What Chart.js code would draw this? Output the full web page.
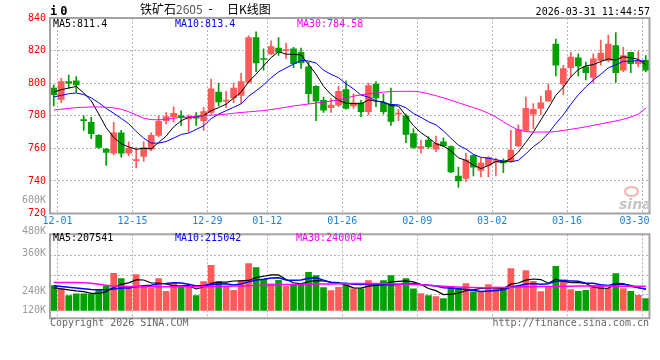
<!DOCTYPE html>
<html>
<head>
<meta charset="utf-8">
<script src="https://cdn.jsdelivr.net/npm/chart.js@4.4.1/dist/chart.umd.min.js"></script>
<style>
  html, body { margin: 0; padding: 0; background: #fff; }
  #wrap { position: relative; width: 660px; height: 360px; overflow: hidden;
          font-family: "DejaVu Sans Mono", monospace; font-size: 10px; }
  #wrap canvas { position: absolute; left: 0; }
  .t { position: absolute; white-space: nowrap; line-height: 12px; }
  .vl { position: absolute; right: 614px; color: #9a9a9a; line-height: 12px; }
</style>
</head>
<body>
<div id="wrap">
  <canvas id="kChart" width="660" height="232" style="top:0"></canvas>
  <canvas id="volChart" width="660" height="128" style="top:232px"></canvas>

  <div class="t" style="left:50px;top:5px;font-weight:bold;font-size:12px;letter-spacing:3px;">i0</div>
  <div class="t" style="left:140px;top:3px;font-family:'Noto Sans CJK SC';font-size:12px;">铁矿石<span style="color:#555">2605</span></div>
  <div class="t" style="left:207px;top:3px;font-size:12px;">-</div>
  <div class="t" style="left:227px;top:3px;font-family:'Noto Sans CJK SC';font-size:12px;">日K线图</div>
  <div class="t" style="right:10px;top:6px;">2026-03-31 11:44:57</div>

  <div class="t" style="left:53px;top:18px;color:#000">MA5:811.4</div>
  <div class="t" style="left:175px;top:18px;color:#0000ff">MA10:813.4</div>
  <div class="t" style="left:297px;top:18px;color:#ff00ff">MA30:784.58</div>

  <div class="vl" style="top:194px">600K</div>
  <div class="vl" style="top:225px">480K</div>
  <div class="vl" style="top:247px">360K</div>
  <div class="vl" style="top:285px">240K</div>
  <div class="vl" style="top:304px">120K</div>

  <div class="t" style="left:53px;top:232px;color:#000">MA5:207541</div>
  <div class="t" style="left:175px;top:232px;color:#0000ff">MA10:215042</div>
  <div class="t" style="left:296px;top:232px;color:#ff00ff">MA30:240004</div>

  <div class="t" style="left:50px;top:317px;color:#666">Copyright 2026 SINA.COM</div>
  <div class="t" style="right:11px;top:317px;color:#666">http://finance.sina.com.cn</div>

  <div style="position:absolute;left:624px;top:186px;width:11px;height:7px;border:2px solid #f2b3b3;border-radius:50%;"></div>
  <div class="t" style="left:619px;top:196px;font:italic bold 14px 'DejaVu Sans';color:#c4c4c4;">sina</div>
</div>

<script>
// ===== daily K data (2025-12-01 .. 2026-03-31) =====
const dates = [
  '12-01','12-02','12-03','12-04','12-05','12-08','12-09','12-10','12-11','12-12',
  '12-15','12-16','12-17','12-18','12-19','12-22','12-23','12-24','12-25','12-26',
  '12-29','12-30','12-31','01-05','01-06','01-07','01-08','01-09','01-12','01-13',
  '01-14','01-15','01-16','01-19','01-20','01-21','01-22','01-23','01-26','01-27',
  '01-28','01-29','01-30','02-02','02-03','02-04','02-05','02-06','02-09','02-10',
  '02-11','02-12','02-13','02-23','02-24','02-25','02-26','02-27','03-02','03-03',
  '03-04','03-05','03-06','03-09','03-10','03-11','03-12','03-13','03-16','03-17',
  '03-18','03-19','03-20','03-23','03-24','03-25','03-26','03-27','03-30','03-31'
];

const opens = [
  797, 790, 801, 801.5, 777.5, 776, 768, 759.5, 757, 769.5,
  757, 752.5, 755, 759.5, 768, 777, 779.5, 780, 778, 779.5,
  777, 782, 794.5, 789, 791, 792.5, 800.5, 828, 815, 818,
  821.5, 820, 821, 819, 810, 798, 789.5, 785, 786.5, 796,
  786, 788, 782.5, 799.5, 788, 787, 781, 780, 769, 760,
  765, 759.5, 764, 761, 743, 741.5, 755.5, 746.5, 749.5, 751.5,
  752.5, 752, 761.5, 771, 781, 784.5, 789, 824, 799.5, 809.5,
  815.5, 810, 803.5, 814, 814, 823, 808, 819, 812, 814
];
const highs = [
  799, 803, 805, 804, 780, 779, 768.5, 760, 776, 771,
  764, 760.5, 764, 769.5, 780, 782, 785.5, 783, 780.5, 782,
  785, 802.5, 800, 795, 800, 806, 829, 831.5, 821, 826,
  828, 824.5, 822, 821.5, 813, 798.5, 791.5, 790.5, 798, 801.5,
  793.5, 789.5, 800, 801, 793.5, 797, 784, 781, 772, 765,
  767, 767.5, 766.5, 761.5, 748.5, 757, 756, 754, 755, 754,
  753.5, 771, 774.5, 791.5, 787.5, 792, 799.5, 827, 811, 819,
  818, 813, 818, 826.5, 829.5, 831, 822, 819, 819.5, 817
];
const lows = [
  786, 788, 797, 794.5, 771, 766, 760, 749.5, 756, 754.5,
  755.5, 748, 752, 758.5, 767, 775, 776, 774, 770, 774,
  771, 781.5, 786, 785, 788, 787.5, 800, 807, 808, 817.5,
  817, 815, 809.5, 809, 787.5, 777, 782, 782, 785.5, 784,
  784.5, 779.5, 780.5, 785.5, 781, 774, 777, 763.5, 760, 757,
  760, 758, 761, 745, 736, 739.5, 743, 742.5, 742.5, 743,
  745, 751.5, 761, 771, 772, 780.5, 789, 804.5, 793, 804,
  804.5, 802, 800, 811, 813, 800.5, 807, 806.5, 810, 807
];
const closes = [
  793, 801, 800, 799, 777, 769, 760.5, 757.5, 769.5, 757,
  760, 753, 760.5, 768, 776.5, 779.5, 781.5, 779, 779, 778.5,
  782.5, 796.5, 788.5, 789.5, 797, 801, 828, 812.5, 814.5, 822.5,
  819, 820.5, 812, 812.5, 793.5, 789, 783.5, 786.5, 795, 784.5,
  788, 782.5, 798.5, 791, 782.5, 776.5, 781.5, 768.5, 760.5, 761,
  761, 763, 761.5, 745.5, 740, 753, 748.5, 751, 754.5, 752.5,
  751, 759, 771.5, 784.5, 784, 788, 795.5, 811, 809, 816,
  810.5, 806.5, 815, 818.5, 824, 806.5, 817, 812, 813.5, 808
];

const ma5 = [
  794.5, 796, 797, 798, 794, 789.2, 781.1, 772.6, 766.7, 762.7,
  760.9, 759.4, 760, 759.7, 763.6, 767.5, 773.2, 776.9, 779.1, 779.5,
  780.1, 783.1, 785, 787.1, 790.8, 794.5, 800.8, 805.6, 810.6, 815.7,
  819.3, 817.8, 817.7, 817.3, 811.5, 805.5, 798.1, 793, 789.5, 787.7,
  787.5, 787.3, 789.7, 788.9, 788.5, 786.2, 786, 780, 773.9, 769.6,
  766.5, 762.8, 761.4, 758.4, 754.2, 752.6, 749.7, 747.6, 749.4, 751.9,
  751.5, 753.6, 757.7, 763.7, 770, 777.4, 784.7, 792.6, 797.5, 803.9,
  808.4, 810.6, 811.4, 813.3, 814.9, 814.1, 816.2, 815.6, 814.6, 811.4
];
const ma10 = [
  791.5, 792.5, 793.5, 794, 793, 791, 788, 784.5, 781.5, 778.4,
  775.1, 770.3, 766.3, 763.2, 763.2, 764.2, 766.3, 768.5, 769.4, 771.6,
  773.8, 778.2, 781, 783.1, 785.2, 787.3, 792, 795.3, 798.9, 803.3,
  806.9, 809.3, 811.7, 814, 813.6, 812.4, 808, 805.4, 803.4, 799.6,
  796.5, 792.7, 791.4, 789.2, 788.1, 786.9, 786.7, 784.9, 781.4, 779,
  776.4, 774.4, 770.7, 766.2, 761.9, 759.6, 756.3, 754.5, 753.9, 753.1,
  752.1, 751.7, 752.7, 756.6, 761, 764.4, 769.2, 775.2, 780.6, 787,
  792.9, 797.7, 802, 805.4, 809.4, 811.3, 813.4, 813.5, 813.9, 813.4
];
const ma30 = [
  783.5, 784, 784.5, 785, 785.2, 785.4, 785.4, 785.2, 784.8, 784,
  782.5, 780.5, 778.5, 777.6, 777.5, 777.8, 778.5, 779, 779.3, 779.7,
  780.1, 780.4, 780.6, 781, 781.5, 782, 782.4, 782.8, 783.2, 783.8,
  784.5, 785.2, 786, 786.6, 787.2, 787.8, 788.4, 789, 789.8, 790.8,
  792, 792.8, 793.5, 794, 794.5, 794.8, 795, 795, 795, 794.5,
  793.5, 792.3, 791, 789.5, 788, 786.5, 785, 783.5, 781.5, 779.2,
  776.3, 773.6, 771.2, 770.3, 770, 770, 770, 770.3, 771, 771.7,
  772.4, 773.2, 774.1, 775, 775.9, 776.8, 777.8, 779.2, 781, 784.58
];

const volumes = [
  247000, 215000, 147000, 164000, 164000, 160000, 207000, 240000, 370000, 317000,
  240000, 357000, 230000, 222000, 317000, 190000, 264000, 230000, 235000, 147000,
  288000, 450000, 288000, 240000, 200000, 297000, 467000, 428000, 310000, 265000,
  300000, 240000, 262000, 255000, 380000, 347000, 228000, 197000, 230000, 255000,
  215000, 215000, 297000, 262000, 297000, 347000, 245000, 317000, 215000, 167000,
  147000, 138000, 117000, 240000, 217000, 267000, 184000, 188000, 257000, 232000,
  215000, 417000, 245000, 397000, 290000, 187000, 237000, 440000, 307000, 207000,
  190000, 200000, 250000, 255000, 217000, 367000, 217000, 190000, 150000, 117000
];
const volMa5 = [
  225000, 215000, 205000, 195000, 187400, 170000, 168400, 187000, 228200, 258800,
  274800, 304800, 302800, 273200, 273200, 263200, 244600, 244600, 247200, 213200,
  232800, 270000, 281600, 282600, 293200, 295000, 298400, 326400, 340400, 353400,
  354000, 308600, 275400, 264400, 287400, 296800, 294400, 281400, 276400, 251400,
  225000, 222400, 242400, 248800, 257200, 283600, 289600, 293600, 284200, 258200,
  218200, 196800, 156800, 161800, 171800, 195800, 205000, 219200, 222600, 225600,
  215200, 261800, 273200, 301200, 312800, 307200, 271200, 310200, 292200, 275600,
  276200, 268800, 230800, 220400, 222400, 257800, 261200, 249200, 228200, 207541
];
const volMa10 = [
  245000, 238000, 230000, 222000, 215000, 208000, 205000, 205000, 212000, 223100,
  222400, 236600, 244900, 250700, 266000, 269000, 274700, 273700, 260200, 243200,
  248000, 257300, 263100, 264900, 253200, 263900, 284200, 304000, 311500, 323300,
  324500, 303500, 300900, 302400, 320400, 325400, 301500, 278400, 270400, 269400,
  260900, 258400, 261900, 262600, 254300, 254300, 256000, 268000, 266500, 257700,
  250900, 243200, 225200, 223000, 215000, 207000, 200900, 188000, 192200, 198700,
  205500, 233400, 246200, 261900, 269200, 261200, 266500, 291700, 296700, 294200,
  291700, 270000, 270500, 256300, 249000, 267000, 265000, 240000, 224300, 215042
];
const volMa30 = [
  278000, 278000, 277000, 277000, 276000, 270000, 260000, 250000, 243000, 240000,
  238000, 237000, 236000, 236000, 235000, 235000, 235000, 235000, 235000, 235000,
  236000, 237000, 238000, 240000, 242000, 244000, 246000, 249000, 251000, 253000,
  255000, 257000, 258000, 259000, 260000, 262000, 263000, 264000, 265000, 266000,
  267000, 268000, 268000, 268000, 267000, 266000, 264000, 262000, 259000, 255000,
  250000, 245000, 240000, 236000, 232000, 229000, 227000, 226000, 226000, 227000,
  229000, 231000, 233000, 235000, 236000, 237000, 238000, 239000, 240000, 241000,
  242000, 243000, 243000, 242000, 242000, 241000, 241000, 240000, 240000, 240004
];

const xTickLabels = ['12-01', '12-15', '12-29', '01-12', '01-26', '02-09', '03-02', '03-16', '03-30'];

// ===== styling =====
const UP = '#ff5a5a';
const DOWN = '#00a000';
const GRID = '#b4b4b4';
const FONT = '"DejaVu Sans Mono", monospace';

const candleColor = closes.map((c, i) => (c >= opens[i] ? UP : DOWN));
const xTickValues = xTickLabels.map(l => dates.indexOf(l) + 0.5);
const pts = arr => arr.map((v, i) => ({ x: i, y: v }));

const framePlugin = {
  id: 'frame',
  afterDraw(chart) {
    const { ctx, chartArea: a } = chart;
    ctx.save();
    ctx.strokeStyle = '#a3a3a3';
    ctx.lineWidth = 2;
    ctx.strokeRect(a.left, a.top, a.right - a.left, a.bottom - a.top);
    ctx.restore();
  }
};

// date labels sit on the grid lines, last one pushed inside the frame
const dateLabelPlugin = {
  id: 'dateLabels',
  afterDraw(chart) {
    const { ctx, chartArea: a, scales: { x } } = chart;
    ctx.save();
    ctx.font = '10px ' + FONT;
    ctx.fillStyle = '#1b82d6';
    ctx.textBaseline = 'middle';
    ctx.textAlign = 'left';
    xTickLabels.forEach((label, k) => {
      const px = x.getPixelForValue(xTickValues[k]);
      const w = ctx.measureText(label).width;
      let left = px - w / 2;
      if (left + w > a.right) left = a.right - w;
      ctx.fillText(label, left, a.bottom + 8);
    });
    ctx.restore();
  }
};

function xAxis(height) {
  return {
    type: 'linear',
    min: -0.5,
    max: dates.length - 0.5,
    offset: false,
    afterBuildTicks: s => { s.ticks = xTickValues.map(v => ({ value: v })); },
    afterFit: s => { s.height = height; },
    grid: { color: GRID, lineWidth: 1, drawTicks: false, offset: false },
    border: { display: false, dash: [2, 2] },
    ticks: { display: false }
  };
}

function lineSet(data, color, width) {
  return {
    type: 'line', data: pts(data), borderColor: color, borderWidth: width,
    pointRadius: 0, tension: 0, order: 0
  };
}

Chart.defaults.font.family = FONT;

new Chart(document.getElementById('kChart'), {
  type: 'bar',
  data: {
    datasets: [
      {
        data: dates.map((d, i) => ({ x: i, y: [lows[i], highs[i]] })),
        backgroundColor: candleColor,
        barThickness: 1,
        grouped: false,
        order: 3
      },
      {
        data: dates.map((d, i) => ({ x: i, y: [opens[i], closes[i]] })),
        backgroundColor: candleColor,
        barThickness: 6,
        minBarLength: 1,
        grouped: false,
        order: 2
      },
      lineSet(ma30, '#ff00ff', 1),
      lineSet(ma10, '#0000ff', 1),
      lineSet(ma5, '#000000', 1)
    ]
  },
  options: {
    responsive: false,
    animation: false,
    devicePixelRatio: 1,
    layout: { padding: { top: 18, right: 10.5, bottom: 0, left: 0 } },
    plugins: { legend: { display: false }, tooltip: { enabled: false } },
    scales: {
      x: xAxis(18.5),
      y: {
        min: 720,
        max: 840,
        afterFit: s => { s.width = 50; },
        grid: { color: GRID, lineWidth: 1, drawTicks: false },
        border: { display: false, dash: [2, 2] },
        ticks: { stepSize: 20, color: '#ff0000', padding: 4, font: { size: 10 } }
      }
    }
  },
  plugins: [framePlugin, dateLabelPlugin]
});

new Chart(document.getElementById('volChart'), {
  type: 'bar',
  data: {
    datasets: [
      {
        data: dates.map((d, i) => ({ x: i, y: volumes[i] })),
        backgroundColor: candleColor,
        barThickness: 6,
        grouped: false,
        order: 2
      },
      lineSet(volMa30, '#ff00ff', 1.5),
      lineSet(volMa10, '#0000ff', 1.5),
      lineSet(volMa5, '#000000', 1.2)
    ]
  },
  options: {
    responsive: false,
    animation: false,
    devicePixelRatio: 1,
    layout: { padding: { top: 2.3, right: 10.5, bottom: 41.7, left: 0 } },
    plugins: { legend: { display: false }, tooltip: { enabled: false } },
    scales: {
      x: xAxis(0),
      y: {
        min: -80000,
        max: 760000,
        afterFit: s => { s.width = 50; },
        afterBuildTicks: s => { s.ticks = [153000, 353000, 553000].map(v => ({ value: v })); },
        grid: { color: GRID, lineWidth: 1, drawTicks: false },
        border: { display: false, dash: [2, 2] },
        ticks: { display: false }
      }
    }
  },
  plugins: [framePlugin]
});
</script>
</body>
</html>
